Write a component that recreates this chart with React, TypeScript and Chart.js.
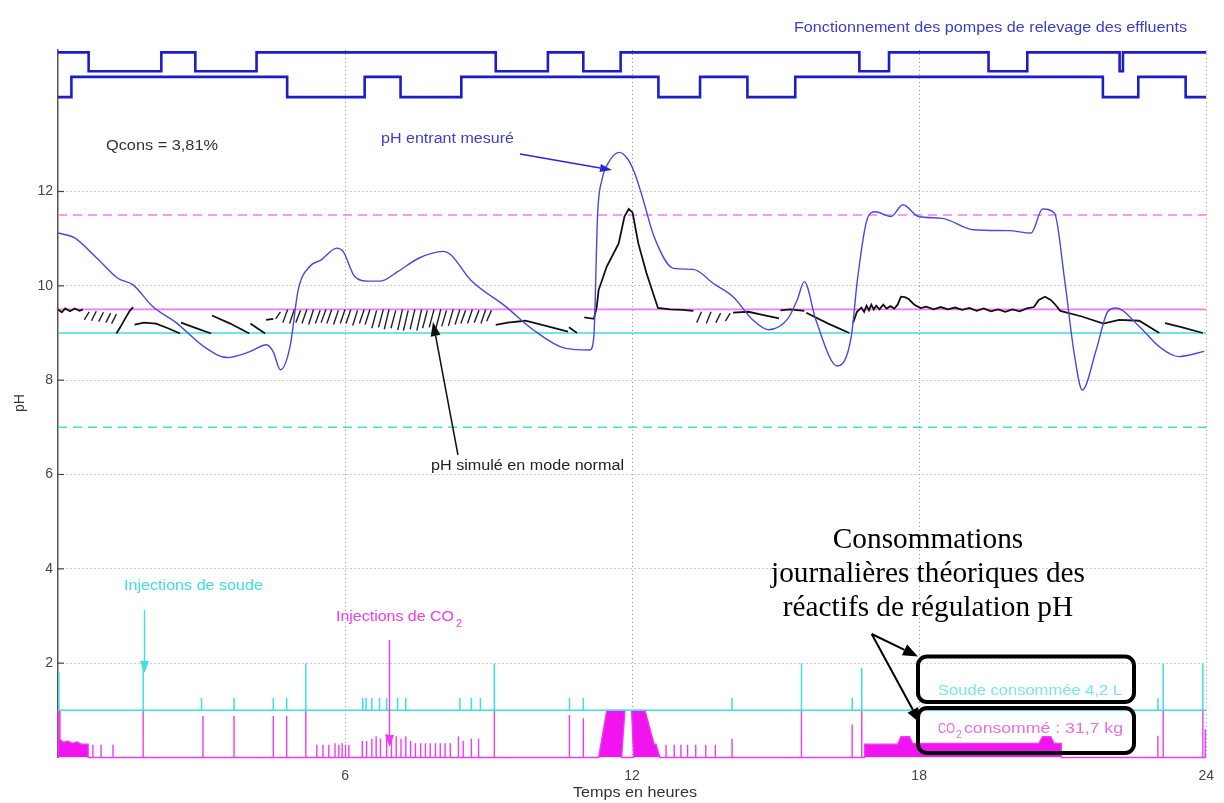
import { useEffect, useRef } from 'react';
import { Chart, registerables } from 'chart.js';

Chart.register(...registerables);

// ---------------- data ----------------
const xTickHours = [6, 12, 18, 24];
const yTickPH = [2, 4, 6, 8, 10, 12];

// measured incoming pH (blue)
const phInHours = [0, 0.34, 0.8, 1.25, 1.57, 1.98, 2.48, 3.05, 3.54, 4.0, 4.36, 4.5, 4.65, 4.85, 5.02, 5.26, 5.5, 5.83, 5.96, 6.2, 6.49, 6.74, 7.1, 7.55, 8.05, 8.21, 8.62, 9.36, 9.93, 10.59, 11.12, 11.2, 11.28, 11.37, 11.5, 11.73, 11.9, 12.05, 12.21, 12.46, 12.87, 13.28, 13.7, 14.11, 14.52, 14.85, 15.26, 15.45, 15.6, 15.84, 16.29, 16.58, 16.71, 16.91, 17.08, 17.41, 17.66, 17.99, 18.48, 19.14, 19.88, 20.34, 20.58, 20.83, 21.04, 21.24, 21.41, 21.7, 21.94, 22.11, 22.6, 23.02, 23.43, 23.96];
const phInValues = [11.12, 11.02, 10.6, 10.16, 10.02, 9.56, 9.21, 8.71, 8.48, 8.6, 8.75, 8.6, 8.22, 8.71, 9.91, 10.41, 10.55, 10.8, 10.73, 10.2, 10.1, 10.1, 10.3, 10.59, 10.73, 10.66, 10.13, 9.56, 9.07, 8.68, 8.64, 8.92, 11.54, 12.25, 12.6, 12.83, 12.7, 12.4, 11.9, 11.04, 10.37, 10.35, 10.05, 9.77, 9.28, 9.07, 9.31, 9.7, 10.09, 9.28, 8.3, 8.92, 10.13, 11.4, 11.57, 11.47, 11.72, 11.47, 11.43, 11.19, 11.17, 11.12, 11.63, 11.54, 10.13, 8.57, 7.79, 8.64, 9.45, 9.53, 9.14, 8.71, 8.5, 8.61];

// simulated pH, normal mode (black) - null marks a break
const simHours = [
  0, 0.08, 0.15, 0.25, 0.35, 0.45, 0.52, 0.52,
  1.22, 1.3, 1.4, 1.5, 1.57, 1.57,
  1.6, 1.8, 2.05, 2.3, 2.55, 2.55,
  2.57, 2.9, 3.2, 3.2,
  3.22, 3.6, 4.0, 4.0,
  4.02, 4.33, 4.33,
  4.35, 4.5, 4.5,
  9.15, 9.4, 9.77, 10.2, 10.66, 10.66,
  10.68, 10.85, 10.85,
  11.0, 11.2, 11.26, 11.3, 11.47, 11.72, 11.84, 11.93, 12.01, 12.13, 12.3, 12.54, 12.8, 13.05, 13.28, 13.28,
  14.11, 14.43, 14.75, 15.07, 15.07,
  15.1, 15.3, 15.6, 15.6,
  15.64, 16.1, 16.54, 16.54,
  16.62, 16.7, 16.79, 16.85, 16.9, 16.95, 17.0, 17.05, 17.1, 17.17, 17.25, 17.32, 17.4, 17.48, 17.55, 17.62, 17.7, 17.78, 17.9, 18.03, 18.15, 18.3, 18.45, 18.6, 18.75, 18.9, 19.05, 19.2, 19.35, 19.5, 19.65, 19.8, 19.95, 20.1, 20.25, 20.4, 20.5, 20.63, 20.75, 20.83, 20.95, 21.4, 21.85, 22.18, 22.6, 23.02, 23.02,
  23.14, 23.5, 23.93,
];
const simValues = [
  9.5, 9.44, 9.52, 9.46, 9.52, 9.47, 9.5, null,
  8.99, 9.12, 9.3, 9.47, 9.55, null,
  9.18, 9.22, 9.2, 9.1, 8.99, null,
  9.22, 9.1, 8.99, null,
  9.37, 9.2, 8.99, null,
  9.2, 8.99, null,
  9.28, 9.3, null,
  9.17, 9.22, 9.26, 9.15, 9.03, null,
  9.12, 9.0, null,
  9.33, 9.3, 9.55, 9.91, 10.41, 10.9, 11.47, 11.63, 11.55, 10.9, 10.27, 9.53, 9.5, 9.49, 9.47, null,
  9.43, 9.45, 9.38, 9.31, null,
  9.48, 9.5, 9.47, null,
  9.43, 9.2, 9.0, null,
  9.22, 9.45, 9.54, 9.45, 9.58, 9.48, 9.6, 9.5, 9.58, 9.5, 9.6, 9.52, 9.57, 9.52, 9.6, 9.77, 9.76, 9.72, 9.6, 9.53, 9.56, 9.5, 9.55, 9.5, 9.54, 9.49, 9.53, 9.47, 9.52, 9.46, 9.5, 9.45, 9.5, 9.46, 9.52, 9.55, 9.7, 9.77, 9.7, 9.62, 9.47, 9.35, 9.2, 9.28, 9.26, 9.0, null,
  9.21, 9.12, 9.0,
];

// short "/" strokes of the simulated pH (controller cycles)
const hatchStart = [
  0.55, 0.7, 0.85, 1.0, 1.12,
  4.55, 4.7, 4.84, 4.97, 5.1, 5.24, 5.38, 5.5, 5.62, 5.76, 5.9, 6.02, 6.16, 6.3, 6.42, 6.56, 6.7, 6.82, 6.96, 7.1, 7.22, 7.36, 7.5, 7.62, 7.76, 7.9, 8.02, 8.16, 8.3, 8.42, 8.56, 8.7, 8.84, 8.96,
  13.35, 13.55, 13.75, 13.95,
];
const hatchEnd = [
  0.65, 0.8, 0.95, 1.1, 1.22,
  4.65, 4.8, 4.94, 5.07, 5.2, 5.34, 5.48, 5.6, 5.72, 5.86, 6.0, 6.12, 6.26, 6.4, 6.52, 6.66, 6.8, 6.92, 7.06, 7.2, 7.32, 7.46, 7.6, 7.72, 7.86, 8.0, 8.12, 8.26, 8.4, 8.52, 8.66, 8.8, 8.94, 9.06,
  13.45, 13.65, 13.85, 14.05,
];
const hatchLow = [
  9.28, 9.26, 9.24, 9.22, 9.2,
  9.3, 9.22, 9.2, 9.22, 9.2, 9.18, 9.2, 9.22, 9.2, 9.18, 9.2, 9.2, 9.16, 9.2, 9.18, 9.1, 9.12, 9.08, 9.1, 9.06, 9.05, 9.08, 9.05, 9.1, 9.12, 9.1, 9.14, 9.15, 9.18, 9.2, 9.2, 9.22, 9.2, 9.25,
  9.22, 9.2, 9.22, 9.25,
];
const hatchHigh = [
  9.45, 9.46, 9.44, 9.42, 9.4,
  9.45, 9.5, 9.5, 9.48, 9.5, 9.5, 9.48, 9.5, 9.5, 9.48, 9.5, 9.5, 9.48, 9.5, 9.5, 9.48, 9.5, 9.5, 9.48, 9.5, 9.48, 9.5, 9.5, 9.48, 9.5, 9.5, 9.48, 9.5, 9.5, 9.48, 9.5, 9.48, 9.5, 9.48,
  9.45, 9.45, 9.42, 9.42,
];

// lifting pumps (on/off)
const pump1Hours = [0, 0.64, 2.16, 2.87, 4.15, 9.15, 10.24, 10.98, 11.76, 16.75, 17.37, 19.45, 20.26, 22.19, 22.26, 24];
const pump1On = [1, 0, 1, 0, 1, 0, 1, 0, 1, 0, 1, 0, 1, 0, 1, 1];
const pump2Hours = [0, 0.28, 4.79, 6.41, 7.16, 8.43, 12.55, 13.42, 14.41, 15.41, 21.84, 22.58, 23.57, 24];
const pump2On = [0, 1, 0, 1, 0, 1, 0, 1, 0, 1, 0, 1, 0, 0];
const pump1Levels = [14.55, 14.95];
const pump2Levels = [14.0, 14.43];

// set points
const co2HighLimit = 11.5;
const co2SetPoint = 9.5;
const sodaSetPoint = 9.0;
const sodaLowLimit = 7.0;

// soda injections (cyan), base level 1
const sodaBase = 1;
const sodaHours = [0.02, 1.78, 3.0, 3.68, 4.5, 4.78, 5.18, 6.37, 6.44, 6.56, 6.72, 6.87, 7.1, 7.27, 8.4, 8.64, 8.83, 9.12, 10.69, 10.98, 14.09, 15.54, 16.6, 16.8, 22.99, 23.1, 23.93];
const sodaPeaks = [1.8, 2.0, 1.26, 1.26, 1.26, 1.26, 2.0, 1.26, 1.26, 1.26, 1.26, 1.26, 1.26, 1.26, 1.26, 1.26, 1.26, 2.0, 1.26, 1.26, 1.26, 2.0, 1.26, 1.9, 1.26, 2.0, 2.0];

// CO2 injections (magenta), base level 0
const co2Hours = [0.73, 0.9, 1.15, 1.78, 3.03, 3.68, 4.5, 4.78, 5.18, 5.41, 5.54, 5.66, 5.79, 5.87, 5.94, 6.01, 6.08, 6.36, 6.45, 6.56, 6.65, 6.74, 6.87, 6.97, 7.07, 7.17, 7.27, 7.37, 7.47, 7.58, 7.68, 7.78, 7.89, 7.99, 8.09, 8.2, 8.37, 8.47, 8.64, 8.79, 9.12, 10.69, 10.98, 12.71, 12.88, 13.02, 13.16, 13.33, 13.54, 13.74, 14.09, 15.54, 16.6, 16.8, 22.99, 23.1, 23.93, 23.98];
const co2Peaks = [0.27, 0.27, 0.27, 1.0, 0.88, 0.88, 0.88, 0.88, 1.0, 0.27, 0.27, 0.27, 0.3, 0.27, 0.3, 0.27, 0.27, 0.35, 0.35, 0.4, 0.45, 0.4, 0.5, 0.45, 0.45, 0.4, 0.45, 0.35, 0.3, 0.3, 0.3, 0.3, 0.3, 0.3, 0.3, 0.3, 0.45, 0.35, 0.4, 0.4, 1.0, 0.9, 0.83, 0.27, 0.27, 0.27, 0.27, 0.27, 0.27, 0.27, 0.4, 1.0, 0.7, 1.0, 0.46, 1.0, 1.0, 0.6];
const co2Block1Hours = [0, 0.01, 0.03, 0.04, 0.12, 0.2, 0.3, 0.4, 0.5, 0.63, 0.63];
const co2Block1Levels = [0, 1.0, 1.0, 0.38, 0.32, 0.35, 0.3, 0.33, 0.28, 0.28, 0];
const co2Block2Hours = [11.3, 11.47, 11.85, 11.78];
const co2Block2Levels = [0, 1.0, 1.0, 0];
const co2Block3Hours = [12.03, 11.99, 12.27, 12.46, 12.5, 12.58];
const co2Block3Levels = [0, 1.0, 1.0, 0.28, 0.28, 0];
const co2Block4Hours = [16.86, 16.86, 17.55, 17.62, 17.8, 17.86, 20.5, 20.58, 20.75, 20.82, 20.97, 20.97];
const co2Block4Levels = [0, 0.28, 0.28, 0.44, 0.44, 0.3, 0.3, 0.44, 0.44, 0.3, 0.3, 0];

// ---------------- styling ----------------
const SANS = '"Liberation Sans", Arial, sans-serif';
const SERIF = '"Liberation Serif", "Times New Roman", serif';
const BLUE = 'rgb(72,72,228)';
const PUMP = 'rgb(28,28,205)';
const MAG = 'rgb(238,60,238)';
const MAG_LIGHT = 'rgb(245,120,245)';
const CYAN = 'rgb(64,222,222)';

type P = { x: number; y: number | null };

function buildSpikes(base: number, hours: number[], peaks: number[], blocks: P[][]): P[] {
  const groups: P[][] = hours.map((h, i) => [
    { x: h, y: base },
    { x: h, y: peaks[i] },
    { x: h, y: base },
  ]);
  const all = groups.concat(blocks);
  all.sort((a, b) => (a[0].x as number) - (b[0].x as number));
  const out: P[] = [{ x: 0, y: base }];
  all.forEach((g) => out.push(...g));
  out.push({ x: 24, y: base });
  return out;
}

function blockPts(h: number[], v: number[]): P[] {
  return h.map((x, i) => ({ x, y: v[i] }));
}

function fitText(ctx: CanvasRenderingContext2D, text: string, x: number, baseline: number, width: number, font: string, color: string) {
  ctx.save();
  ctx.font = font;
  ctx.fillStyle = color;
  ctx.textAlign = 'left';
  ctx.textBaseline = 'alphabetic';
  const w = ctx.measureText(text).width;
  ctx.translate(x, baseline);
  ctx.scale(width / w, 1);
  ctx.fillText(text, 0, 0);
  ctx.restore();
}

function arrow(ctx: CanvasRenderingContext2D, x1: number, y1: number, x2: number, y2: number, color: string, lw: number, head: number, hw: number) {
  const a = Math.atan2(y2 - y1, x2 - x1);
  const bx = x2 - head * Math.cos(a);
  const by = y2 - head * Math.sin(a);
  ctx.save();
  ctx.strokeStyle = color;
  ctx.fillStyle = color;
  ctx.lineWidth = lw;
  ctx.beginPath();
  ctx.moveTo(x1, y1);
  ctx.lineTo(bx, by);
  ctx.stroke();
  ctx.beginPath();
  ctx.moveTo(x2, y2);
  ctx.lineTo(bx + hw * Math.sin(a), by - hw * Math.cos(a));
  ctx.lineTo(bx - hw * Math.sin(a), by + hw * Math.cos(a));
  ctx.closePath();
  ctx.fill();
  ctx.restore();
}

const annotations = {
  id: 'annotations',
  afterDraw(chart: any) {
    const ctx: CanvasRenderingContext2D = chart.ctx;
    const ys = chart.scales.y;
    const left = chart.chartArea.left;
    // inward tick marks on the pH axis
    ctx.save();
    ctx.strokeStyle = '#444';
    ctx.lineWidth = 1.2;
    yTickPH.forEach((v) => {
      const y = ys.getPixelForValue(v);
      ctx.beginPath();
      ctx.moveTo(left, y);
      ctx.lineTo(left + 6, y);
      ctx.stroke();
    });
    ctx.restore();

    // axis titles
    ctx.save();
    ctx.translate(24, 403);
    ctx.rotate(-Math.PI / 2);
    ctx.font = `14px ${SANS}`;
    ctx.fillStyle = '#333';
    ctx.textAlign = 'center';
    ctx.fillText('pH', 0, 0);
    ctx.restore();
    fitText(ctx, 'Temps en heures', 573, 797, 124, `14px ${SANS}`, '#333');

    // texts
    fitText(ctx, 'Fonctionnement des pompes de relevage des effluents', 794, 32, 393, `14px ${SANS}`, 'rgb(60,60,205)');
    fitText(ctx, 'Qcons = 3,81%', 106, 150, 112, `14px ${SANS}`, '#333');
    fitText(ctx, 'pH entrant mesuré', 381, 143, 133, `14px ${SANS}`, 'rgb(60,60,215)');
    fitText(ctx, 'pH simulé en mode normal', 431, 470, 193, `14px ${SANS}`, '#222');
    fitText(ctx, 'Injections de soude', 124, 590, 139, `14px ${SANS}`, CYAN);
    fitText(ctx, 'Injections de CO', 336, 621, 118, `14px ${SANS}`, MAG);
    fitText(ctx, '2', 456, 627, 6, `10px ${SANS}`, MAG);
    fitText(ctx, 'Soude consommée 4,2 L', 938, 695, 184, `14px ${SANS}`, 'rgb(120,230,230)');
    fitText(ctx, 'CO', 938, 733, 17, `14px ${SANS}`, 'rgb(232,110,232)');
    fitText(ctx, '2', 956, 738, 6, `10px ${SANS}`, 'rgb(232,110,232)');
    fitText(ctx, 'consommé : 31,7 kg', 964, 733, 159, `14px ${SANS}`, 'rgb(232,110,232)');

    // serif annotation
    ctx.save();
    ctx.font = `26px ${SERIF}`;
    const w2 = ctx.measureText('journalières théoriques des').width;
    const size = (26 * 314) / w2;
    ctx.font = `${size}px ${SERIF}`;
    ctx.fillStyle = '#000';
    ctx.textAlign = 'center';
    ctx.fillText('Consommations', 928, 548);
    ctx.fillText('journalières théoriques des', 928, 582);
    ctx.fillText('réactifs de régulation pH', 928, 616);
    ctx.restore();

    // arrows
    arrow(ctx, 520, 154, 612, 170, 'rgb(40,40,215)', 1.4, 12, 4);
    arrow(ctx, 458, 455, 433, 322, '#111', 1.5, 14, 5);
    arrow(ctx, 144.5, 610, 144.5, 673, CYAN, 1.4, 12, 4.5);
    arrow(ctx, 389.5, 640, 389.5, 747, MAG, 1.4, 12, 4.5);
    arrow(ctx, 871.7, 634, 918, 656.5, '#000', 2, 15, 6);
    arrow(ctx, 871.7, 634, 920, 723, '#000', 2, 15, 6);

    // boxes
    ctx.save();
    ctx.strokeStyle = '#000';
    ctx.lineWidth = 4;
    ctx.beginPath();
    ctx.roundRect(918, 656.5, 216, 45.5, 9);
    ctx.stroke();
    ctx.beginPath();
    ctx.roundRect(918, 708, 216, 45, 9);
    ctx.stroke();
    ctx.restore();
  },
};

export default function App() {
  const ref = useRef<HTMLCanvasElement>(null);

  useEffect(() => {
    const phIn: P[] = phInHours.map((x, i) => ({ x, y: phInValues[i] }));
    const sim: P[] = simHours.map((x, i) => ({ x, y: simValues[i] }));
    const hatch: P[] = [];
    hatchStart.forEach((h, i) => {
      hatch.push({ x: h, y: hatchLow[i] }, { x: hatchEnd[i], y: hatchHigh[i] }, { x: hatchEnd[i], y: null });
    });
    const pump1: P[] = pump1Hours.map((x, i) => ({ x, y: pump1Levels[pump1On[i]] }));
    const pump2: P[] = pump2Hours.map((x, i) => ({ x, y: pump2Levels[pump2On[i]] }));
    const hline = (v: number): P[] => [{ x: 0, y: v }, { x: 24, y: v }];
    const soda = buildSpikes(sodaBase, sodaHours, sodaPeaks, []);
    const co2 = buildSpikes(0, co2Hours, co2Peaks, [
      blockPts(co2Block1Hours, co2Block1Levels),
      blockPts(co2Block2Hours, co2Block2Levels),
      blockPts(co2Block3Hours, co2Block3Levels),
      blockPts(co2Block4Hours, co2Block4Levels),
    ]);

    const common = { pointRadius: 0, pointHoverRadius: 0, spanGaps: false, fill: false };
    const chart = new Chart(ref.current as HTMLCanvasElement, {
      type: 'line',
      data: {
        datasets: [
          { ...common, label: 'pH entrant mesuré', data: phIn, borderColor: BLUE, borderWidth: 1.4, cubicInterpolationMode: 'monotone' },
          { ...common, label: 'pH simulé', data: sim, borderColor: '#111', borderWidth: 1.8, tension: 0 },
          { ...common, label: 'cycles', data: hatch, borderColor: '#222', borderWidth: 1.4, tension: 0 },
          { ...common, label: 'Pompe 1', data: pump1, borderColor: PUMP, borderWidth: 2.6, stepped: 'before', clip: 6 },
          { ...common, label: 'Pompe 2', data: pump2, borderColor: PUMP, borderWidth: 2.6, stepped: 'before' },
          { ...common, label: 'CO2 haut', data: hline(co2HighLimit), borderColor: MAG_LIGHT, borderWidth: 1.5, borderDash: [9, 6] },
          { ...common, label: 'Consigne CO2', data: hline(co2SetPoint), borderColor: MAG_LIGHT, borderWidth: 1.6 },
          { ...common, label: 'Consigne soude', data: hline(sodaSetPoint), borderColor: CYAN, borderWidth: 1.6 },
          { ...common, label: 'Soude bas', data: hline(sodaLowLimit), borderColor: CYAN, borderWidth: 1.5, borderDash: [9, 6] },
          { ...common, label: 'Injections de soude', data: soda, borderColor: CYAN, borderWidth: 1.5, tension: 0 },
          { ...common, label: 'Injections de CO2', data: co2, borderColor: MAG, backgroundColor: 'rgb(240,20,240)', borderWidth: 1.4, tension: 0, fill: 'origin', clip: 4 },
        ] as any,
      },
      options: {
        responsive: false,
        animation: false,
        devicePixelRatio: 1,
        events: [],
        layout: { padding: { left: 0, right: 8, top: 50, bottom: 0 } },
        plugins: { legend: { display: false }, tooltip: { enabled: false }, title: { display: false } },
        scales: {
          x: {
            type: 'linear',
            min: 0,
            max: 24,
            afterBuildTicks: (s: any) => { s.ticks = xTickHours.map((v) => ({ value: v })); },
            afterFit: (s: any) => { s.height = 45.5; },
            ticks: { color: '#444', padding: 10, font: { family: SANS, size: 14 }, callback: (v: any) => String(v), maxRotation: 0, autoSkip: false },
            grid: { color: '#9a9a9a', lineWidth: 1, drawTicks: false },
            border: { display: false, dash: [1, 3] },
          },
          y: {
            type: 'linear',
            min: 0,
            max: 15,
            afterBuildTicks: (s: any) => { s.ticks = yTickPH.map((v) => ({ value: v })); },
            afterFit: (s: any) => { s.width = 58; },
            ticks: { color: '#444', padding: 5, font: { family: SANS, size: 14 }, callback: (v: any) => String(v), autoSkip: false },
            grid: { color: '#9a9a9a', lineWidth: 1, drawTicks: false },
            border: { display: true, color: '#555', width: 1.5, dash: [1, 3] },
          },
        },
      } as any,
      plugins: [annotations],
    });
    return () => chart.destroy();
  }, []);

  return (
    <div style={{ position: 'absolute', left: 0, top: 0, width: 1224, height: 803, background: '#fff' }}>
      <canvas ref={ref} width={1224} height={803} style={{ display: 'block' }} />
    </div>
  );
}
